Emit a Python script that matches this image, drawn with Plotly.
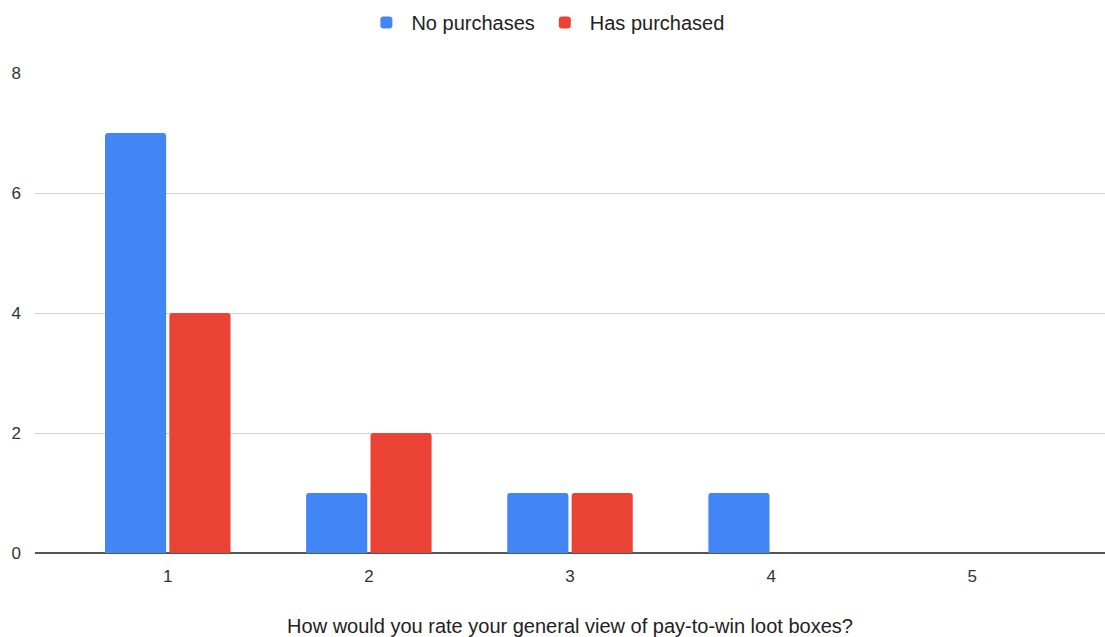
import plotly.graph_objects as go

ratings = [1, 2, 3, 4, 5]
no_purchases = [7, 1, 1, 1, 0]
has_purchased = [4, 2, 1, 0, 0]

fig = go.Figure()
fig.add_trace(go.Bar(x=ratings, y=no_purchases, name="No purchases",
                     marker=dict(color="#4285F4", line=dict(width=0))))
fig.add_trace(go.Bar(x=ratings, y=has_purchased, name="Has purchased",
                     marker=dict(color="#EA4335", line=dict(width=0))))

fig.update_layout(
    width=1105, height=637,
    margin=dict(l=35, r=0, t=73, b=84),
    paper_bgcolor="white", plot_bgcolor="white",
    font=dict(family="Liberation Sans, Arial, sans-serif", size=17, color="#222222"),
    barmode="group", bargap=0.36, bargroupgap=0.05, barcornerradius=3,
    legend=dict(orientation="h", x=0.477, xanchor="center", y=1.105, yanchor="middle",
                font=dict(size=20, color="#222222"), itemwidth=40,
                traceorder="normal"),
    xaxis=dict(range=[0.34, 5.66], tickvals=ratings, ticktext=[str(r) for r in ratings],
               showgrid=False, zeroline=False, showline=False, ticks="",
               ticklabelstandoff=11,
               title=dict(text="How would you rate your general view of pay-to-win loot boxes?",
                          font=dict(size=20, color="#222222"), standoff=34),
               tickfont=dict(size=17, color="#333333")),
    yaxis=dict(range=[0, 8], tickvals=[0, 2, 4, 6, 8], showgrid=True,
               gridcolor="#d0d0d0", gridwidth=1, zeroline=True,
               zerolinecolor="#555555", zerolinewidth=2, ticks="",
               ticklabelstandoff=13, tickfont=dict(size=17, color="#333333")),
)

fig.write_html("out.html")
